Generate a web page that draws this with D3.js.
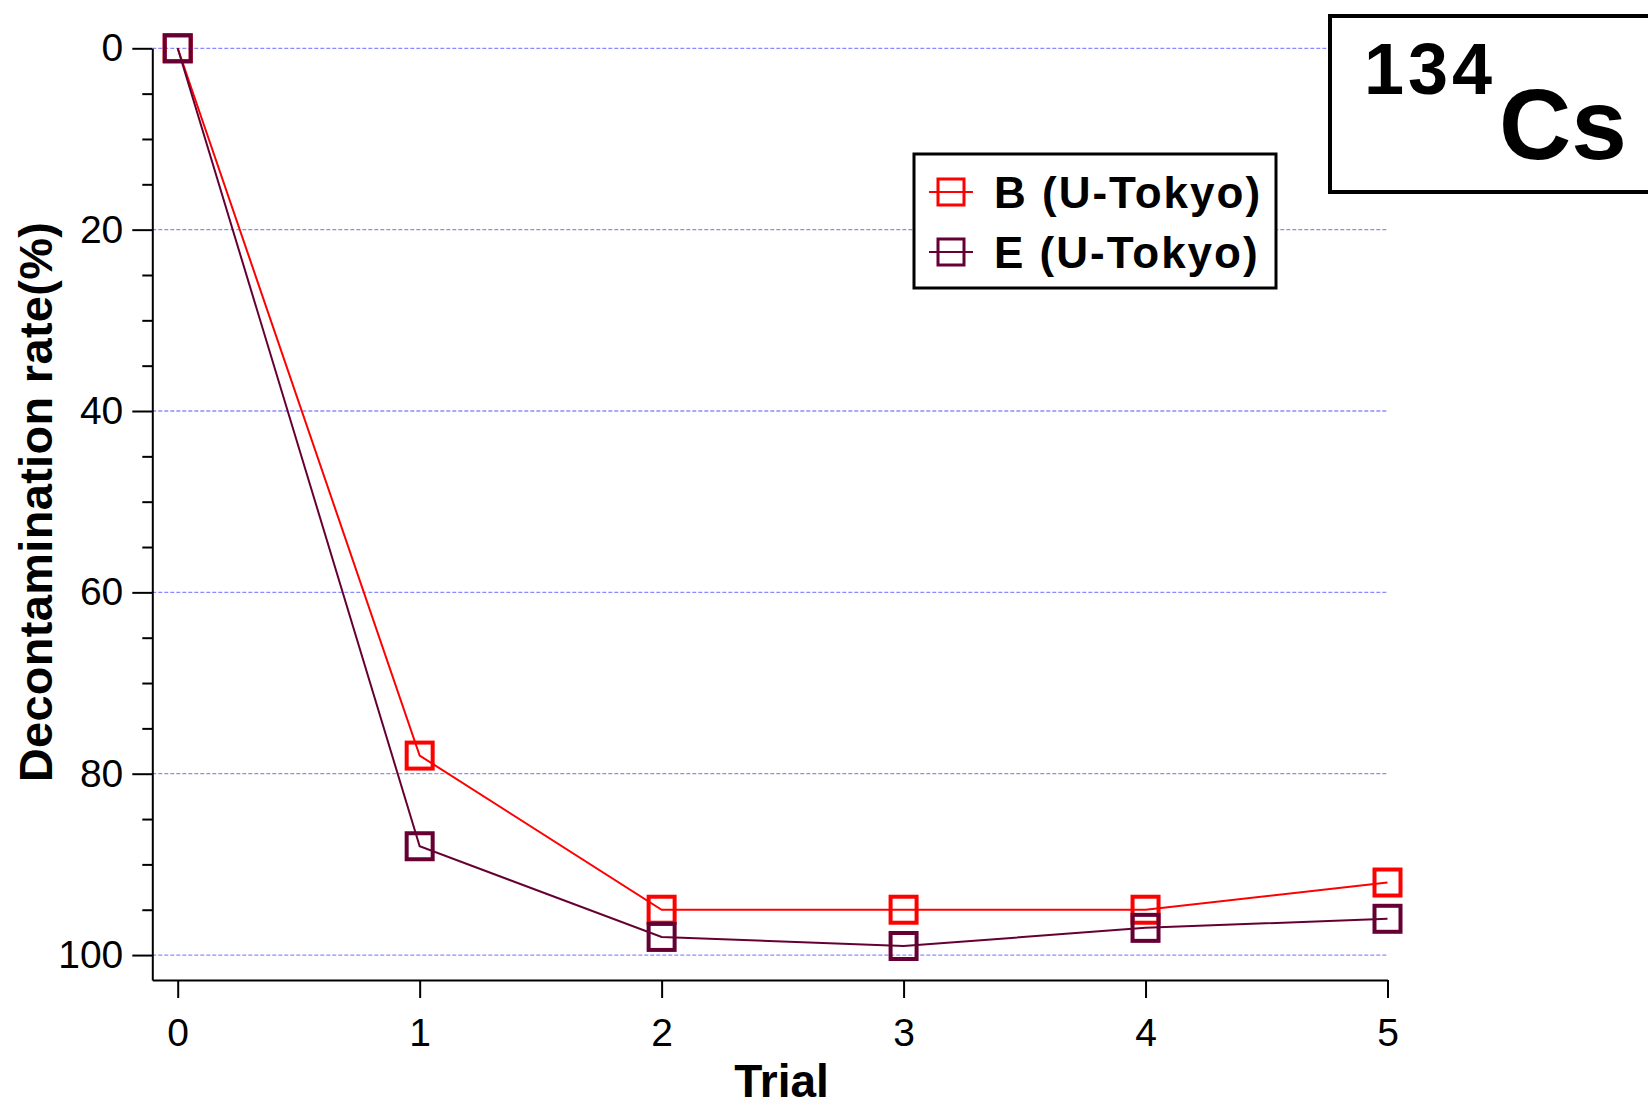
<!DOCTYPE html>
<html>
<head>
<meta charset="utf-8">
<script src="https://cdn.jsdelivr.net/npm/d3@7"></script>
<style>
  body { margin: 0; background: #fff; }
  svg { display: block; font-family: "Liberation Sans", Arial, sans-serif; }
</style>
</head>
<body>
<svg id="chart" width="1648" height="1109"></svg>
<script>
// data
var trials = [0, 1, 2, 3, 4, 5];
var seriesB = [0, 78, 95, 95, 95, 92];
var seriesE = [0, 88, 98, 99, 97, 96];
var seriesNames = ["B (U-Tokyo)", "E (U-Tokyo)"];
var seriesColors = ["#ff0000", "#660033"];
var yMajorTicks = [0, 20, 40, 60, 80, 100];
var yMinorTicks = d3.range(0, 101, 5).filter(function(v) { return v % 20 !== 0; });

var svg = d3.select("#chart");

// scales (axis lines run a bit past the data range, like the original)
var x = d3.scaleLinear().domain([-0.105, 5]).range([152.3, 1387.5]);
var y = d3.scaleLinear().domain([0, 102.75]).range([48.3, 980]);

// grid lines
svg.append("g").selectAll("line")
  .data(yMajorTicks)
  .enter().append("line")
  .attr("x1", x(-0.105)).attr("x2", x(5))
  .attr("y1", function(d) { return y(d); })
  .attr("y2", function(d) { return y(d); })
  .attr("stroke", "#8c8cff")
  .attr("stroke-width", 1.3)
  .attr("stroke-dasharray", "4,2");

// y axis
svg.append("g")
  .attr("transform", "translate(" + x(-0.105) + ",0)")
  .call(d3.axisLeft(y).tickValues(yMajorTicks).tickSize(20).tickSizeOuter(0).tickPadding(9));
svg.append("g")
  .attr("transform", "translate(" + x(-0.105) + ",0)")
  .call(d3.axisLeft(y).tickValues(yMinorTicks).tickSize(10).tickFormat("").tickSizeOuter(0))
  .select(".domain").remove();

// x axis
svg.append("g")
  .attr("transform", "translate(0," + y(102.75) + ")")
  .call(d3.axisBottom(x).tickValues(trials).tickFormat(d3.format("d")).tickSize(18).tickSizeOuter(0).tickPadding(20));

svg.selectAll(".domain, .tick line").attr("stroke", "#000").attr("stroke-width", 2);
svg.selectAll(".tick text").attr("fill", "#000").style("font-size", "39px")
  .style("font-family", "'Liberation Sans', Arial, sans-serif");

// axis titles
svg.append("text")
  .attr("transform", "translate(52," + 502 + ") rotate(-90)")
  .attr("text-anchor", "middle")
  .style("font-size", "47px").style("font-weight", "bold")
  .style("letter-spacing", "0.3px")
  .text("Decontamination rate(%)");

svg.append("text")
  .attr("x", x(2.5) - 1).attr("y", 1097)
  .attr("text-anchor", "middle")
  .style("font-size", "46px").style("font-weight", "bold")
  .text("Trial");

// series
var allSeries = [seriesB, seriesE];
var line = d3.line()
  .x(function(d, i) { return x(trials[i]); })
  .y(function(d) { return y(d); });

allSeries.forEach(function(vals, k) {
  var g = svg.append("g");
  g.append("path")
    .datum(vals)
    .attr("d", line)
    .attr("fill", "none")
    .attr("stroke", seriesColors[k])
    .attr("stroke-width", 2);
  g.selectAll("rect")
    .data(vals)
    .enter().append("rect")
    .attr("x", function(d, i) { return x(trials[i]) - 13; })
    .attr("y", function(d) { return y(d) - 13; })
    .attr("width", 26).attr("height", 26)
    .attr("fill", "none")
    .attr("stroke", seriesColors[k])
    .attr("stroke-width", 4);
});

// legend
var legend = svg.append("g");
legend.append("rect")
  .attr("x", 914).attr("y", 154).attr("width", 362).attr("height", 134)
  .attr("fill", "#fff").attr("stroke", "#000").attr("stroke-width", 3);
seriesNames.forEach(function(name, k) {
  var cy = 192 + k * 60;
  legend.append("line")
    .attr("x1", 929).attr("x2", 973).attr("y1", cy).attr("y2", cy)
    .attr("stroke", seriesColors[k]).attr("stroke-width", 2);
  legend.append("rect")
    .attr("x", 938).attr("y", cy - 13).attr("width", 26).attr("height", 26)
    .attr("fill", "none").attr("stroke", seriesColors[k]).attr("stroke-width", 3);
  legend.append("text")
    .attr("x", 994).attr("y", cy + 16)
    .style("font-size", "44px").style("font-weight", "bold")
    .style("letter-spacing", "2px")
    .text(name);
});

// isotope label box
var iso = svg.append("g");
iso.append("rect")
  .attr("x", 1330).attr("y", 16).attr("width", 340).attr("height", 176)
  .attr("fill", "#fff").attr("stroke", "#000").attr("stroke-width", 4);
iso.append("text")
  .attr("x", 1364).attr("y", 94)
  .style("font-size", "72px").style("font-weight", "bold")
  .style("letter-spacing", "4px")
  .text("134");
iso.append("text")
  .attr("x", 1499).attr("y", 159)
  .style("font-size", "100px").style("font-weight", "bold")
  .text("Cs");
</script>
</body>
</html>
